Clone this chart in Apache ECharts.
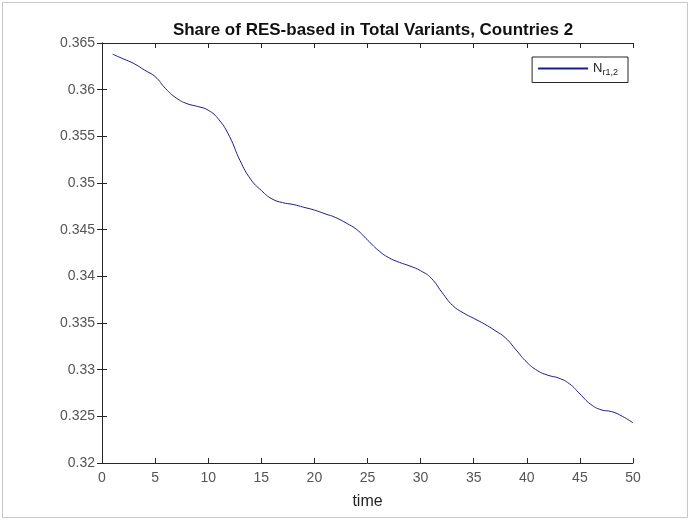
<!DOCTYPE html>
<html>
<head>
<meta charset="utf-8">
<script src="https://cdn.jsdelivr.net/npm/echarts@6/dist/echarts.min.js"></script>
<style>html,body{margin:0;padding:0;background:#fff;}#c{width:690px;height:520px;}</style>
</head>
<body>
<div id="c"></div>
<script>
var timeSteps = [1,2,3,4,5,6,7,8,9,10,11,12,13,14,15,16,17,18,19,20,21,22,23,24,25,26,27,28,29,30,31,32,33,34,35,36,37,38,39,40,41,42,43,44,45,46,47,48,49,50];
var shareRES = [0.3638,0.3633,0.3628,0.3621,0.3614,0.3601,0.3591,0.3585,0.3582,0.3578,
  0.3568,0.3550,0.3524,0.3504,0.3492,0.3483,0.3479,0.3477,0.3474,0.3471,
  0.3467,0.3463,0.3457,0.3450,0.3439,0.3428,0.3420,0.3415,0.3411,0.3406,
  0.3398,0.3383,0.3369,0.3361,0.3355,0.3349,0.3342,0.3334,0.3321,0.3308,
  0.3299,0.3294,0.3291,0.3285,0.3274,0.3263,0.3257,0.3255,0.3250,0.3243];
var titleText = 'Share of RES-based in Total Variants, Countries 2';
var xLabel = 'time';
var seriesName = 'N_r1,2';
var yTicks = [0.32,0.325,0.33,0.335,0.34,0.345,0.35,0.355,0.36,0.365];
var xTicks = [0,5,10,15,20,25,30,35,40,45,50];

var chart = echarts.init(document.getElementById('c'), null, {renderer:'canvas'});
var font = 'Liberation Sans, Arial, Helvetica, sans-serif';
var axisLineStyle = {color:'#262626', width:1};
var data = timeSteps.map(function(t,i){return [t, shareRES[i]];});
var G = {left:102, right:57, top:43, bottom:57};
chart.setOption({
  backgroundColor:'#fff',
  animation:false,
  title:{text:titleText, top:17, left:368, textAlign:'center', textStyle:{fontFamily:font, fontSize:17, fontWeight:'bold', color:'#111'}},
  grid:G,
  graphic:[{type:'rect', shape:{x:2.5,y:2.5,width:685,height:515}, style:{fill:'none', stroke:'#c8c8c8', lineWidth:1}, silent:true}],
  legend:{
    data:[seriesName], right:62, top:57, orient:'vertical',
    backgroundColor:'#fff', borderColor:'#262626', borderWidth:1, padding:[5,10,5,6],
    itemWidth:50, itemHeight:2, itemGap:0, icon:'rect',
    formatter:function(){return '{n|N}{s|r1,2}';},
    textStyle:{fontFamily:font, rich:{n:{fontSize:13, color:'#222'}, s:{fontSize:9, color:'#222', verticalAlign:'bottom', padding:[9,0,0,0]}}}
  },
  xAxis:[{
    type:'value', min:0, max:50, interval:5, name:xLabel, nameLocation:'middle', nameGap:31,
    nameTextStyle:{fontFamily:font, fontSize:16, color:'#262626'},
    axisLine:{show:true, lineStyle:axisLineStyle}, axisTick:{show:true, inside:true, length:5, lineStyle:axisLineStyle},
    axisLabel:{fontFamily:font, fontSize:14, color:'#555', margin:8}, splitLine:{show:false}
  },{
    type:'value', min:0, max:50, interval:5, position:'top',
    axisLine:{show:true, lineStyle:axisLineStyle}, axisTick:{show:true, inside:true, length:5, lineStyle:axisLineStyle},
    axisLabel:{show:false}, splitLine:{show:false}
  }],
  yAxis:[{
    type:'value', min:0.32, max:0.365, interval:0.005,
    axisLine:{show:true, lineStyle:axisLineStyle}, axisTick:{show:true, inside:true, length:5, lineStyle:axisLineStyle},
    axisLabel:{fontFamily:font, fontSize:14, color:'#555', margin:7, formatter:function(v){return String(+v.toFixed(3));}},
    splitLine:{show:false}
  },{
    type:'value', min:0.32, max:0.365, interval:0.005, position:'right',
    axisLine:{show:true, lineStyle:axisLineStyle}, axisTick:{show:true, inside:true, length:5, lineStyle:axisLineStyle},
    axisLabel:{show:false}, splitLine:{show:false}
  }],
  series:[{
    name:seriesName, type:'line', data:data, showSymbol:false, smooth:true,
    lineStyle:{color:'#1c1c8a', width:1}, itemStyle:{color:'#1c1c8a'}
  }]
});
</script>
</body>
</html>
